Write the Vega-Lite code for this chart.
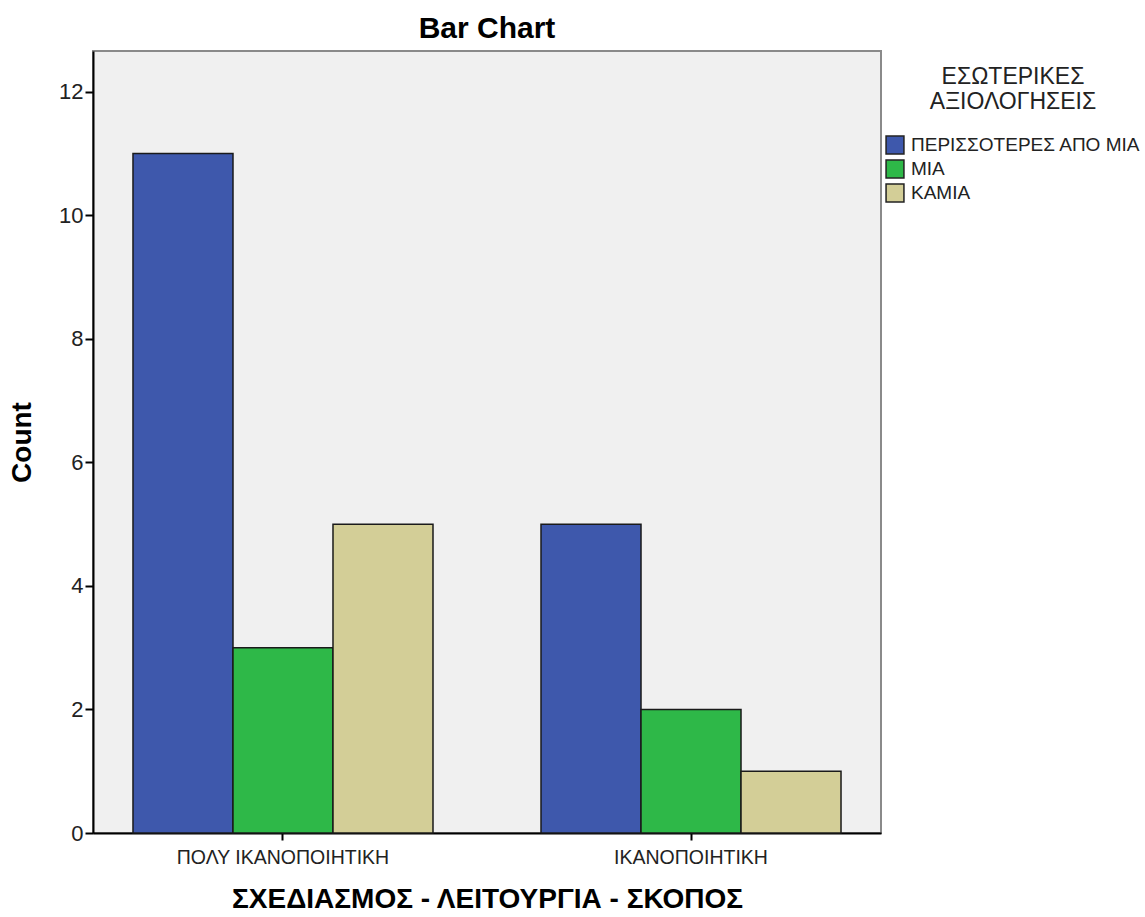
{
  "$schema": "https://vega.github.io/schema/vega-lite/v6.json",
  "width": 788,
  "height": 782,
  "autosize": "none",
  "padding": {"left": 93, "top": 51, "right": 264, "bottom": 84},
  "background": "white",
  "title": {"text": "Bar Chart", "font": "Liberation Sans", "fontSize": 30, "fontWeight": "bold", "color": "#000000", "offset": 7, "anchor": "middle"},
  "config": {
    "view": {"fill": "#F0F0F0", "stroke": "#8a8a8a", "strokeWidth": 2},
    "font": "Liberation Sans"
  },
  "data": {
    "values": [
      {"group": "ΠΟΛΥ ΙΚΑΝΟΠΟΙΗΤΙΚΗ", "eval": "ΠΕΡΙΣΣΟΤΕΡΕΣ ΑΠΟ ΜΙΑ", "count": 11},
      {"group": "ΠΟΛΥ ΙΚΑΝΟΠΟΙΗΤΙΚΗ", "eval": "ΜΙΑ", "count": 3},
      {"group": "ΠΟΛΥ ΙΚΑΝΟΠΟΙΗΤΙΚΗ", "eval": "ΚΑΜΙΑ", "count": 5},
      {"group": "ΙΚΑΝΟΠΟΙΗΤΙΚΗ", "eval": "ΠΕΡΙΣΣΟΤΕΡΕΣ ΑΠΟ ΜΙΑ", "count": 5},
      {"group": "ΙΚΑΝΟΠΟΙΗΤΙΚΗ", "eval": "ΜΙΑ", "count": 2},
      {"group": "ΙΚΑΝΟΠΟΙΗΤΙΚΗ", "eval": "ΚΑΜΙΑ", "count": 1}
    ]
  },
  "mark": {"type": "bar", "stroke": "#1a1a1a", "strokeWidth": 1.5},
  "encoding": {
    "x": {
      "field": "group", "type": "nominal",
      "sort": ["ΠΟΛΥ ΙΚΑΝΟΠΟΙΗΤΙΚΗ", "ΙΚΑΝΟΠΟΙΗΤΙΚΗ"],
      "scale": {"paddingInner": 0.2647, "paddingOuter": 0.098},
      "axis": {
        "title": "ΣΧΕΔΙΑΣΜΟΣ - ΛΕΙΤΟΥΡΓΙΑ - ΣΚΟΠΟΣ",
        "titleFontSize": 28, "titleFontWeight": "bold", "titleColor": "#000000", "titlePadding": 19,
        "labelAngle": 0, "labelFontSize": 19.5, "labelColor": "#222222", "labelPadding": 8, "labelLimit": 400,
        "domainColor": "#000000", "domainWidth": 2, "tickColor": "#000000", "tickSize": 7, "tickWidth": 2
      }
    },
    "xOffset": {
      "field": "eval", "type": "nominal",
      "sort": ["ΠΕΡΙΣΣΟΤΕΡΕΣ ΑΠΟ ΜΙΑ", "ΜΙΑ", "ΚΑΜΙΑ"],
      "scale": {"paddingInner": 0, "paddingOuter": 0}
    },
    "y": {
      "field": "count", "type": "quantitative",
      "scale": {"domain": [0, 12.66], "nice": false},
      "axis": {
        "title": "Count", "titleFontSize": 28, "titleFontWeight": "bold", "titleColor": "#000000", "titlePadding": 22,
        "values": [0, 2, 4, 6, 8, 10, 12], "grid": false,
        "labelFontSize": 22, "labelColor": "#222222", "labelPadding": 2,
        "domainColor": "#000000", "domainWidth": 2, "tickColor": "#000000", "tickSize": 8, "tickWidth": 2
      }
    },
    "color": {
      "field": "eval", "type": "nominal",
      "sort": ["ΠΕΡΙΣΣΟΤΕΡΕΣ ΑΠΟ ΜΙΑ", "ΜΙΑ", "ΚΑΜΙΑ"],
      "scale": {"domain": ["ΠΕΡΙΣΣΟΤΕΡΕΣ ΑΠΟ ΜΙΑ", "ΜΙΑ", "ΚΑΜΙΑ"], "range": ["#3E58AC", "#2EB848", "#D3CE97"]},
      "legend": {
        "orient": "none", "legendX": 792, "legendY": 15,
        "title": ["ΕΣΩΤΕΡΙΚΕΣ", "ΑΞΙΟΛΟΓΗΣΕΙΣ"],
        "titleFontSize": 23, "titleFontWeight": "normal", "titleColor": "#222222", "titleAnchor": "middle", "titleAlign": "center",
        "titleLineHeight": 25, "titlePadding": 21, "titleLimit": 300,
        "labelFontSize": 19, "labelColor": "#222222", "labelLimit": 300, "labelOffset": 6,
        "symbolType": "square", "symbolSize": 320, "symbolStrokeColor": "#222222", "symbolStrokeWidth": 1.5,
        "symbolOpacity": 1, "rowPadding": 0, "padding": 0
      }
    }
  }
}
